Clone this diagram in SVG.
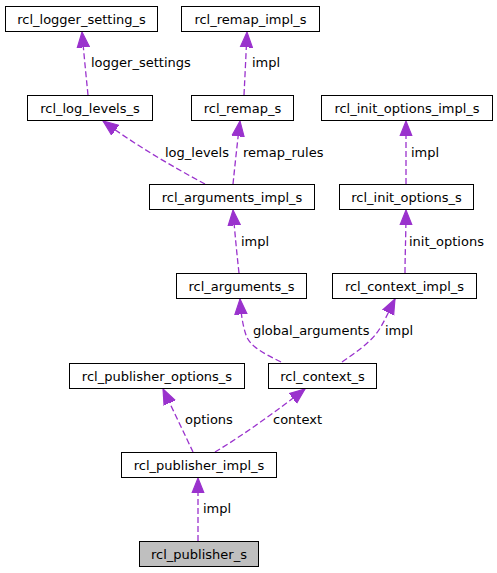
<svg xmlns="http://www.w3.org/2000/svg" width="497" height="573" viewBox="0 0 497 573">
<style>
.n rect{fill:#fff;stroke:#000;stroke-width:1}
.n.root rect{fill:#bfbfbf}
text{font-family:"DejaVu Sans","Liberation Sans",sans-serif;font-size:13px;fill:#000}
.n text{text-anchor:middle}
.e path{fill:none;stroke:#9a32cd;stroke-width:1.3;stroke-dasharray:6,3}
</style>
<defs>
<marker id="ah" markerUnits="userSpaceOnUse" markerWidth="16" markerHeight="14" viewBox="0 0 14 12" refX="13.5" refY="6" orient="auto">
<polygon points="0,0.6 13.5,6 0,11.4" fill="#9a32cd" stroke="#9a32cd" stroke-width="1"/>
</marker>
</defs>
<rect width="497" height="573" fill="#fff"/>
<g id="connectors" class="e">
<path d="M88,95 C86,75 84,55 82,32" marker-end="url(#ah)"/>
<path d="M244,95 C245,75 246,55 247,32" marker-end="url(#ah)"/>
<path d="M205,184 C175,168 135,145 103,121" marker-end="url(#ah)"/>
<path d="M233,184 C235,165 237,145 240,121" marker-end="url(#ah)"/>
<path d="M406,184 L406,121" marker-end="url(#ah)"/>
<path d="M239,273 C237,255 235,235 233,210" marker-end="url(#ah)"/>
<path d="M405,273 C405,255 406,235 406,210" marker-end="url(#ah)"/>
<path d="M281,362 C265,354 250,347 246,335 C243,326 241,315 240,299" marker-end="url(#ah)"/>
<path d="M342,362 C355,353 368,344 376,334 C383,325 389,311 395,299" marker-end="url(#ah)"/>
<path d="M193,452 C185,435 173,410 163,389" marker-end="url(#ah)"/>
<path d="M215,452 C245,434 278,410 305,389" marker-end="url(#ah)"/>
<path d="M198,541 L198,478" marker-end="url(#ah)"/>
</g>
<g id="edge-labels">
<text x="91" y="67">logger_settings</text>
<text x="252" y="67">impl</text>
<text x="165" y="157">log_levels</text>
<text x="243" y="157">remap_rules</text>
<text x="411" y="157">impl</text>
<text x="241" y="246">impl</text>
<text x="409" y="246">init_options</text>
<text x="253" y="335">global_arguments</text>
<text x="385" y="335">impl</text>
<text x="185" y="424">options</text>
<text x="273" y="424">context</text>
<text x="203" y="513">impl</text>
</g>
<g id="rcl_logger_setting_s" class="n"><rect x="5.5" y="6.5" width="152" height="25"/><text x="81.5" y="23.5">rcl_logger_setting_s</text></g>
<g id="rcl_remap_impl_s" class="n"><rect x="181.5" y="6.5" width="138" height="25"/><text x="250.5" y="23.5">rcl_remap_impl_s</text></g>
<g id="rcl_log_levels_s" class="n"><rect x="27.5" y="95.5" width="125" height="25"/><text x="90" y="112.5">rcl_log_levels_s</text></g>
<g id="rcl_remap_s" class="n"><rect x="191.5" y="95.5" width="102" height="25"/><text x="242.5" y="112.5">rcl_remap_s</text></g>
<g id="rcl_init_options_impl_s" class="n"><rect x="321.5" y="95.5" width="171" height="25"/><text x="407" y="112.5">rcl_init_options_impl_s</text></g>
<g id="rcl_arguments_impl_s" class="n"><rect x="149.5" y="184.5" width="165" height="25"/><text x="232" y="201.5">rcl_arguments_impl_s</text></g>
<g id="rcl_init_options_s" class="n"><rect x="339.5" y="184.5" width="134" height="25"/><text x="406.5" y="201.5">rcl_init_options_s</text></g>
<g id="rcl_arguments_s" class="n"><rect x="176.5" y="273.5" width="130" height="25"/><text x="241.5" y="290.5">rcl_arguments_s</text></g>
<g id="rcl_context_impl_s" class="n"><rect x="332.5" y="273.5" width="144" height="25"/><text x="404.5" y="290.5">rcl_context_impl_s</text></g>
<g id="rcl_publisher_options_s" class="n"><rect x="69.5" y="363.5" width="175" height="25"/><text x="157" y="380.5">rcl_publisher_options_s</text></g>
<g id="rcl_context_s" class="n"><rect x="268.5" y="363.5" width="108" height="25"/><text x="322.5" y="380.5">rcl_context_s</text></g>
<g id="rcl_publisher_impl_s" class="n"><rect x="121.5" y="452.5" width="155" height="25"/><text x="199" y="469.5">rcl_publisher_impl_s</text></g>
<g id="rcl_publisher_s" class="n root"><rect x="139.5" y="541.5" width="119" height="25"/><text x="199" y="558.5">rcl_publisher_s</text></g>
</svg>
